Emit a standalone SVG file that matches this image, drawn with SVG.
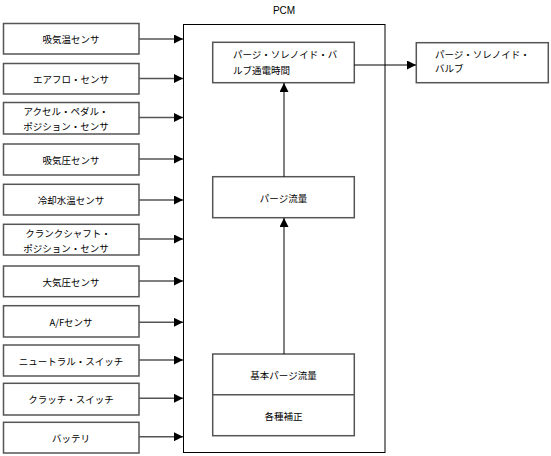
<svg xmlns="http://www.w3.org/2000/svg" width="551" height="456" viewBox="0 0 551 456">
<defs>
<style>
.box{fill:#fff;stroke:#555;stroke-width:1.5}
.pcm{fill:#fff;stroke:#000;stroke-width:1}
.t{font-family:"Noto Sans CJK JP","Liberation Sans",sans-serif;font-size:9.5px;fill:#000;text-anchor:middle;dominant-baseline:central}
.tl{font-family:"Noto Sans CJK JP","Liberation Sans",sans-serif;font-size:9.5px;fill:#000;dominant-baseline:central}
.lab{font-family:"Liberation Sans",Arial,sans-serif;font-size:10px;fill:#000;text-anchor:middle;dominant-baseline:central}
.c{stroke:#000;stroke-width:1;fill:none}
.cg{stroke:#555;stroke-width:1.5;fill:none}
</style>
<marker id="ah" viewBox="0 0 10 10" refX="10" refY="5" markerWidth="10" markerHeight="9" markerUnits="userSpaceOnUse" orient="auto">
<path d="M0,0 L10,5 L0,10 z" fill="#000"/>
</marker>
</defs>
<g id="pcm">
<rect class="pcm" x="183.5" y="24.5" width="201.5" height="428"/>
<text class="lab" x="284" y="10">PCM</text>
</g>
<g id="s1"><rect class="box" x="3.5" y="23.5" width="135.5" height="30.5"/><text class="t" x="71" y="39">吸気温センサ</text></g>
<g id="s2"><rect class="box" x="3.5" y="63.5" width="135.5" height="30.5"/><text class="t" x="71" y="79">エアフロ・センサ</text></g>
<g id="s3"><rect class="box" x="3.5" y="102.5" width="135.5" height="31.5"/><text class="t" x="66" y="111">アクセル・ペダル・</text><text class="t" x="66" y="126">ポジション・センサ</text></g>
<g id="s4"><rect class="box" x="3.5" y="144" width="135.5" height="31"/><text class="t" x="71" y="159.5">吸気圧センサ</text></g>
<g id="s5"><rect class="box" x="3.5" y="184.3" width="135.5" height="30.7"/><text class="t" x="71" y="199.5">冷却水温センサ</text></g>
<g id="s6"><rect class="box" x="3.5" y="224.3" width="135.5" height="30.7"/><text class="t" x="68" y="233">クランクシャフト・</text><text class="t" x="66" y="248">ポジション・センサ</text></g>
<g id="s7"><rect class="box" x="3.5" y="266" width="135.5" height="30.7"/><text class="t" x="71" y="281.5">大気圧センサ</text></g>
<g id="s8"><rect class="box" x="3.5" y="305.7" width="135.5" height="31.3"/><text class="t" x="71" y="321.5">A/Fセンサ</text></g>
<g id="s9"><rect class="box" x="3.5" y="345" width="135.5" height="31"/><text class="t" x="71" y="360.5">ニュートラル・スイッチ</text></g>
<g id="s10"><rect class="box" x="3.5" y="383.3" width="135.5" height="31.7"/><text class="t" x="71" y="398.5">クラッチ・スイッチ</text></g>
<g id="s11"><rect class="box" x="3.5" y="422.3" width="135.5" height="30.7"/><text class="t" x="71" y="437.5">バッテリ</text></g>
<g id="n1"><rect class="box" x="212.7" y="42.3" width="141.6" height="40.4"/><text class="tl" x="233" y="54">パージ・ソレノイド・バ</text><text class="tl" x="233" y="70">ルブ通電時間</text></g>
<g id="n2"><rect class="box" x="212.7" y="176.7" width="141.6" height="41"/><text class="t" x="283.5" y="198">パージ流量</text></g>
<g id="n3"><rect class="box" x="212.7" y="354" width="141.6" height="81.7"/><line class="cg" x1="212.7" y1="394.8" x2="354.3" y2="394.8"/><text class="t" x="283.5" y="375">基本パージ流量</text><text class="t" x="283.5" y="415.5">各種補正</text></g>
<g id="out"><rect class="box" x="416.3" y="42.7" width="132" height="40"/><text class="tl" x="435" y="54">パージ・ソレノイド・</text><text class="tl" x="435" y="68">バルブ</text></g>
<g id="connectors">
<line class="cg" x1="139" y1="39" x2="183" y2="39" marker-end="url(#ah)"/>
<line class="cg" x1="139" y1="78.5" x2="183" y2="78.5" marker-end="url(#ah)"/>
<line class="cg" x1="139" y1="117.5" x2="183" y2="117.5" marker-end="url(#ah)"/>
<line class="cg" x1="139" y1="159" x2="183" y2="159" marker-end="url(#ah)"/>
<line class="cg" x1="139" y1="200" x2="183" y2="200" marker-end="url(#ah)"/>
<line class="cg" x1="139" y1="239" x2="183" y2="239" marker-end="url(#ah)"/>
<line class="cg" x1="139" y1="281" x2="183" y2="281" marker-end="url(#ah)"/>
<line class="cg" x1="139" y1="322.3" x2="183" y2="322.3" marker-end="url(#ah)"/>
<line class="cg" x1="139" y1="360" x2="183" y2="360" marker-end="url(#ah)"/>
<line class="cg" x1="139" y1="398.3" x2="183" y2="398.3" marker-end="url(#ah)"/>
<line class="cg" x1="139" y1="436.7" x2="183" y2="436.7" marker-end="url(#ah)"/>
<line class="c" x1="354.3" y1="65" x2="416" y2="65" marker-end="url(#ah)"/>
<line class="c" x1="284" y1="176.7" x2="284" y2="83" marker-end="url(#ah)"/>
<line class="c" x1="284" y1="354" x2="284" y2="218" marker-end="url(#ah)"/>
</g>
</svg>
